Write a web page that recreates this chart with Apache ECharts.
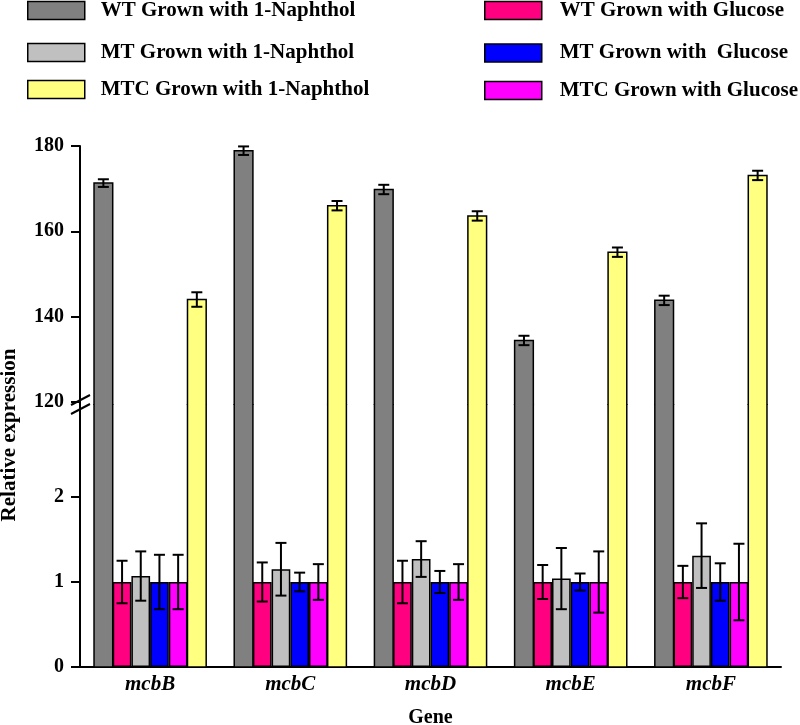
<!DOCTYPE html>
<html><head><meta charset="utf-8">
<script src="https://cdn.jsdelivr.net/npm/echarts@6/dist/echarts.min.js"></script>
<style>html,body{margin:0;padding:0;background:#fff}#c{width:800px;height:725px}</style>
</head><body><div id="c"></div>
<script>
// ---- data ----
const categories = ['mcbB', 'mcbC', 'mcbD', 'mcbE', 'mcbF'];
const seriesNames = [
  'WT Grown with 1-Naphthol',
  'WT Grown with Glucose',
  'MT Grown with 1-Naphthol',
  'MT Grown with  Glucose',
  'MTC Grown with Glucose',
  'MTC Grown with 1-Naphthol'
];
const wtNaph = [171.3, 178.9, 169.8, 134.4, 143.8];
const wtNaphErr = [0.9, 1.0, 1.1, 1.1, 1.1];
const wtGlu = [1, 1, 1, 1, 1];
const wtGluErr = [0.25, 0.23, 0.25, 0.20, 0.19];
const mtNaph = [1.07, 1.15, 1.27, 1.04, 1.31];
const mtNaphErr = [0.29, 0.31, 0.21, 0.36, 0.38];
const mtGlu = [1, 1, 1, 1, 1];
const mtGluErr = [0.32, 0.11, 0.13, 0.10, 0.22];
const mtcGlu = [1, 1, 1, 1, 1];
const mtcGluErr = [0.32, 0.21, 0.21, 0.36, 0.45];
const mtcNaph = [144.0, 166.0, 163.6, 155.1, 173.1];
const mtcNaphErr = [1.7, 1.1, 1.1, 1.1, 1.1];
const upperTicks = [120, 140, 160, 180];
const lowerTicks = [0, 1, 2];

// ---- styling / layout ----
const FONT = '"Liberation Serif","Times New Roman",serif';
const colors = ['#808080', '#FF0080', '#C0C0C0', '#0000FF', '#FF00FF', '#FFFF80'];
const values = [wtNaph, wtGlu, mtNaph, mtGlu, mtcGlu, mtcNaph];
const errors = [wtNaphErr, wtGluErr, mtNaphErr, mtGluErr, mtcGluErr, mtcNaphErr];
const bigIdx = [0, 5];
const smallIdx = [1, 2, 3, 4];
const UPPER_MIN = 119.5, UPPER_MAX = 180;
const LOWER_MAX = 3.094;
const GRID_L = 80, GRID_R = 19, UP_TOP = 146, SPLIT = 404, LOW_BOTTOM = 58;
const N = 6, GAP = 0.2;

function barX(api, i, k) {
  const c = api.coord([i, 0]);
  const band = api.size([1, 0])[0];
  const bw = band * (1 - GAP) / N;
  return { x0: c[0] - band * (1 - GAP) / 2 + k * bw, bw: bw };
}

const series = [];
// lower grid: plain bars (big series kept as invisible placeholders for the slot layout)
for (let k = 0; k < N; k++) {
  const big = bigIdx.indexOf(k) >= 0;
  series.push({
    type: 'bar', name: seriesNames[k], xAxisIndex: 1, yAxisIndex: 1,
    data: values[k], barGap: '0%', barCategoryGap: '20%', clip: true, z: 2,
    itemStyle: big ? { color: 'rgba(0,0,0,0)', borderWidth: 0 }
                   : { color: colors[k], borderColor: '#000', borderWidth: 1.5 },
    emphasis: { disabled: true }, silent: true
  });
}
// big bars drawn as open-ended pieces in both grids so they read as one continuous bar
function bigBar(k, xi, yi, part) {
  return {
    type: 'custom', name: seriesNames[k], xAxisIndex: xi, yAxisIndex: yi, z: 3, silent: true,
    data: values[k].map((v, i) => [i, v]),
    encode: { x: 0, y: 1 },
    renderItem: (params, api) => {
      const i = api.value(0), v = api.value(1);
      const b = barX(api, i, k);
      let top, bot, pts, rect;
      if (part === 'upper') {
        top = api.coord([i, v])[1];
        bot = api.coord([i, UPPER_MIN])[1];
        pts = [[b.x0, bot + 1], [b.x0, top], [b.x0 + b.bw, top], [b.x0 + b.bw, bot + 1]];
        rect = { x: b.x0, y: top, width: b.bw, height: bot + 1 - top };
      } else {
        top = api.coord([i, LOWER_MAX])[1];
        bot = api.coord([i, 0])[1];
        pts = [[b.x0, top], [b.x0, bot], [b.x0 + b.bw, bot], [b.x0 + b.bw, top]];
        rect = { x: b.x0, y: top, width: b.bw, height: bot - top };
      }
      return { type: 'group', children: [
        { type: 'rect', shape: rect, style: { fill: colors[k] } },
        { type: 'polyline', shape: { points: pts }, style: { stroke: '#000', lineWidth: 1.5, fill: null } }
      ]};
    }
  };
}
bigIdx.forEach(k => {
  series.push(bigBar(k, 1, 1, 'lower'));
  series.push(bigBar(k, 0, 0, 'upper'));
});
function errSeries(idxs, xi, yi) {
  const data = [];
  idxs.forEach(k => values[k].forEach((v, i) => data.push([i, k, v, errors[k][i]])));
  return {
    type: 'custom', xAxisIndex: xi, yAxisIndex: yi, z: 5, silent: true, data: data,
    encode: { x: 0, y: 2 },
    renderItem: (params, api) => {
      const i = api.value(0), k = api.value(1), v = api.value(2), e = api.value(3);
      const b = barX(api, i, k);
      const x = b.x0 + b.bw / 2;
      const yh = api.coord([i, v + e])[1], yl = api.coord([i, v - e])[1];
      const cap = 5.5, st = { stroke: '#000', lineWidth: 2 };
      return { type: 'group', children: [
        { type: 'line', shape: { x1: x, y1: yh, x2: x, y2: yl }, style: st },
        { type: 'line', shape: { x1: x - cap, y1: yh, x2: x + cap, y2: yh }, style: st },
        { type: 'line', shape: { x1: x - cap, y1: yl, x2: x + cap, y2: yl }, style: st }
      ]};
    }
  };
}
series.push(errSeries(smallIdx, 1, 1));
series.push(errSeries(bigIdx, 0, 0));

// legends
const legendPos = [
  { k: 0, left: 27, cy: 10.5, pad: 11 },
  { k: 2, left: 27, cy: 52.5, pad: 11 },
  { k: 5, left: 27, cy: 89.5, pad: 11 },
  { k: 1, left: 484, cy: 10.5, pad: 13 },
  { k: 3, left: 484, cy: 53, pad: 13 },
  { k: 4, left: 484, cy: 90.5, pad: 13 }
];
const legends = legendPos.map(p => ({
  left: p.left, top: p.cy - 10.5, padding: 0, itemWidth: 57, itemHeight: 18, selectedMode: false,
  icon: 'rect',
  data: [{ name: seriesNames[p.k], itemStyle: { color: colors[p.k], borderColor: '#000', borderWidth: 1.5 } }],
  textStyle: { fontFamily: FONT, fontWeight: 'bold', fontSize: 21, color: '#000', padding: [0, 0, 0, p.pad], lineHeight: 21 }
}));

const axisLineStyle = { color: '#000', width: 2 };
const labelStyle = { fontFamily: FONT, fontWeight: 'bold', fontSize: 20, color: '#000' };

const option = {
  animation: false,
  backgroundColor: '#fff',
  legend: legends,
  grid: [
    { left: GRID_L, right: GRID_R, top: UP_TOP, height: SPLIT - UP_TOP, outerBoundsMode: 'none', containLabel: false },
    { left: GRID_L, right: GRID_R, top: SPLIT, bottom: LOW_BOTTOM, outerBoundsMode: 'none', containLabel: false }
  ],
  xAxis: [
    { type: 'category', gridIndex: 0, data: categories, show: false },
    { type: 'category', gridIndex: 1, data: categories,
      axisLine: { lineStyle: axisLineStyle },
      axisTick: { length: 5, lineStyle: { color: '#000', width: 2 } },
      axisLabel: Object.assign({ fontStyle: 'italic', margin: 7 }, labelStyle, { fontSize: 21 }),
      name: 'Gene', nameLocation: 'middle', nameGap: 41,
      nameTextStyle: { fontFamily: FONT, fontWeight: 'bold', fontSize: 20, color: '#000' } }
  ],
  yAxis: [
    { type: 'value', gridIndex: 0, min: UPPER_MIN, max: UPPER_MAX, splitLine: { show: false },
      axisLine: { show: true, lineStyle: axisLineStyle },
      axisTick: { show: true, length: 9, customValues: upperTicks, lineStyle: { color: '#000', width: 2 } },
      axisLabel: Object.assign({ margin: 16, customValues: upperTicks }, labelStyle) },
    { type: 'value', gridIndex: 1, min: 0, max: LOWER_MAX, splitLine: { show: false },
      axisLine: { show: true, lineStyle: axisLineStyle },
      axisTick: { show: true, length: 9, customValues: lowerTicks, lineStyle: { color: '#000', width: 2 } },
      axisLabel: Object.assign({ margin: 16, customValues: lowerTicks }, labelStyle) }
  ],
  series: series
};

const chart = echarts.init(document.getElementById('c'), null, { renderer: 'canvas' });
chart.setOption(option);

// axis break marks and y-axis title (decorations)
const bp = chart.convertToPixel({ yAxisIndex: 0 }, UPPER_MIN);
const ax = GRID_L;
chart.setOption({
  graphic: [
    { type: 'line', shape: { x1: ax - 9, y1: bp + 1, x2: ax + 10, y2: bp - 9 }, style: { stroke: '#000', lineWidth: 2 }, z: 10 },
    { type: 'line', shape: { x1: ax - 9, y1: bp + 10, x2: ax + 10, y2: bp }, style: { stroke: '#000', lineWidth: 2 }, z: 10 },
    { type: 'text', x: 10, y: 435, rotation: Math.PI / 2,
      style: { text: 'Relative expression', font: 'bold 21px ' + FONT, fill: '#000', align: 'center', verticalAlign: 'middle' } }
  ]
});
</script></body></html>
